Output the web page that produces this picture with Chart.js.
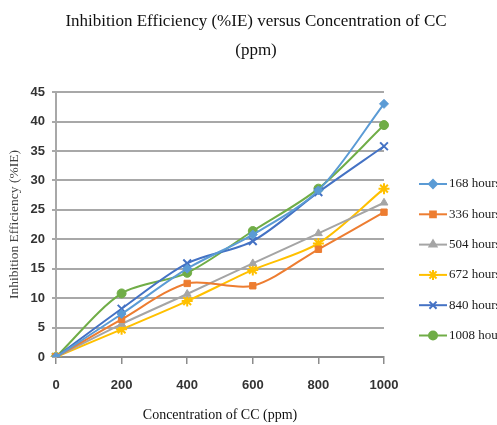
<!DOCTYPE html>
<html>
<head>
<meta charset="utf-8">
<script src="https://cdn.jsdelivr.net/npm/chart.js@4/dist/chart.umd.min.js"></script>
<style>
  html, body { margin: 0; padding: 0; background: #fff; overflow: hidden; }
  #wrap { width: 497px; height: 425px; overflow: hidden; position: relative; }
  #box { width: 512px; height: 425px; }
</style>
</head>
<body>
<div id="wrap"><div id="box"><canvas id="myChart"></canvas></div></div>
<script>
// concentration of CC (ppm)
const concentrations = ['0', '200', '400', '600', '800', '1000'];

// %IE for each immersion time
const hours168 = [0, 7.3, 15.0, 20.8, 28.3, 43.0];
const hours336 = [0, 6.4, 12.5, 12.1, 18.3, 24.6];
const hours504 = [0, 5.6, 10.7, 15.9, 21.0, 26.2];
const hours672 = [0, 4.7, 9.5, 14.8, 19.3, 28.6];
const hours840 = [0, 8.2, 15.9, 19.7, 28.0, 35.8];
const hours1008 = [0, 10.8, 14.3, 21.4, 28.6, 39.4];

const seriesNames = ['168 hours', '336 hours', '504 hours', '672 hours', '840 hours', '1008 hours'];
const yTicks = [0, 5, 10, 15, 20, 25, 30, 35, 40, 45];

const colors = ['#5B9BD5', '#ED7D31', '#A5A5A5', '#FFC000', '#4472C4', '#70AD47'];
const markers = ['rectRot', 'rect', 'triangle', 'star', 'crossRot', 'circle'];
const markerSize = [4.5, 4.5, 4.5, 5.5, 5.5, 4.5];

const serif = '"Liberation Serif", "Times New Roman", serif';
const narrow = '"Liberation Sans Narrow", "Liberation Sans", Arial, sans-serif';

const allSeries = [hours168, hours336, hours504, hours672, hours840, hours1008];

const datasets = allSeries.map((vals, i) => ({
  label: seriesNames[i],
  data: vals,
  borderColor: colors[i],
  backgroundColor: colors[i],
  borderWidth: 2,
  tension: 0.3,
  pointStyle: markers[i],
  pointRadius: markerSize[i],
  pointBorderWidth: (markers[i] == 'star' || markers[i] == 'crossRot') ? 2 : 1,
  pointBorderColor: colors[i],
  pointBackgroundColor: colors[i]
}));

// legend on the right: line sample with marker, then the name
const sideLegend = {
  id: 'sideLegend',
  beforeInit(chart) {
    const box = {
      position: 'right',
      weight: 0,
      fullSize: false,
      options: {},
      isHorizontal() { return false; },
      update(maxW, maxH) { this.width = 128; this.height = maxH; },
      draw() {}
    };
    Chart.layouts.addBox(chart, box);
  },
  afterDraw(chart) {
    const ctx = chart.ctx;
    const x0 = 419, x1 = 447, yStart = 184, step = 30.3;
    ctx.save();
    chart.data.datasets.forEach((ds, i) => {
      const y = yStart + i * step;
      ctx.strokeStyle = ds.borderColor;
      ctx.fillStyle = ds.backgroundColor;
      ctx.lineWidth = 2;
      ctx.beginPath();
      ctx.moveTo(x0, y);
      ctx.lineTo(x1, y);
      ctx.stroke();
      if (Chart.helpers && Chart.helpers.drawPoint) {
        Chart.helpers.drawPoint(ctx, {
          pointStyle: ds.pointStyle,
          radius: ds.pointRadius - 0.5,
          rotation: 0,
          borderWidth: ds.pointBorderWidth
        }, (x0 + x1) / 2, y);
      }
      ctx.fillStyle = '#1a1a1a';
      ctx.font = '13px ' + serif;
      ctx.textBaseline = 'middle';
      ctx.textAlign = 'left';
      ctx.fillText(ds.label, x1 + 2, y);
    });
    ctx.restore();
  }
};

const ctx = document.getElementById('myChart').getContext('2d');
const chart = new Chart(ctx, {
  type: 'line',
  data: {
    labels: concentrations,
    datasets: datasets
  },
  options: {
    responsive: true,
    maintainAspectRatio: false,
    animation: false,
    layout: { padding: 0 },
    plugins: {
      legend: { display: false },
      tooltip: { enabled: false },
      title: {
        display: true,
        text: ['Inhibition Efficiency (%IE) versus Concentration of CC', '(ppm)'],
        color: '#111',
        font: { family: serif, size: 17, weight: 'normal', lineHeight: 1.65 },
        padding: { top: 8, bottom: 28 }
      }
    },
    scales: {
      x: {
        offset: false,
        grid: {
          drawOnChartArea: false,
          drawTicks: true,
          tickLength: 7,
          color: '#8c8c8c',
          lineWidth: 1.5
        },
        border: { display: true, color: '#8c8c8c', width: 2 },
        ticks: {
          color: '#333',
          padding: 14,
          maxRotation: 0,
          font: { family: narrow, size: 13, weight: 'bold' }
        },
        title: {
          display: true,
          text: 'Concentration of CC (ppm)',
          color: '#111',
          font: { family: serif, size: 14 },
          padding: { top: 0, bottom: 1 }
        },
        afterFit(scale) { scale.height = 68; }
      },
      y: {
        min: 0,
        max: 45,
        afterBuildTicks(scale) { scale.ticks = yTicks.map(v => ({ value: v })); },
        grid: {
          color: '#a8a8a8',
          lineWidth: 2,
          tickLength: 4
        },
        border: { display: true, color: '#a8a8a8', width: 2 },
        ticks: {
          color: '#333',
          padding: 7,
          font: { family: narrow, size: 13, weight: 'bold' }
        },
        title: {
          display: true,
          text: 'Inhibition Efficiency (%IE)',
          color: '#444',
          font: { family: serif, size: 13.5 },
          padding: { top: 6, bottom: 0 }
        },
        afterFit(scale) { scale.width = 56; }
      }
    }
  },
  plugins: [sideLegend]
});
</script>
</body>
</html>
